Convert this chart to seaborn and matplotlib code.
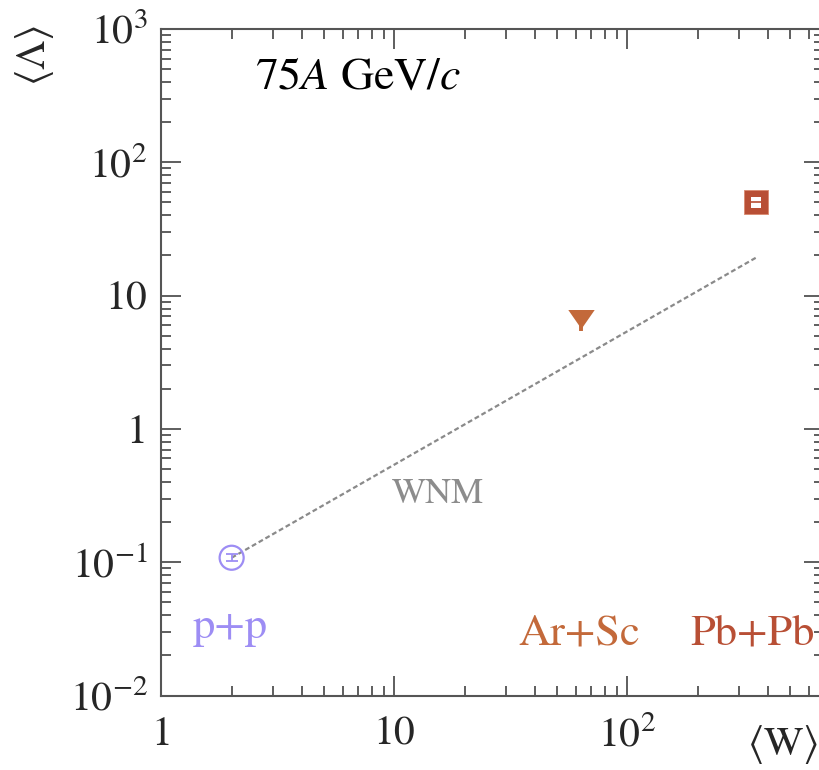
import matplotlib
matplotlib.use("Agg")
import matplotlib.pyplot as plt
from matplotlib.patches import Rectangle
from matplotlib.ticker import FixedLocator, FuncFormatter, LogLocator, NullFormatter
import numpy as np
import pandas as pd
import seaborn as sns

# Mean number of wounded nucleons and mean Lambda multiplicity at 75A GeV/c
systems = ["p+p", "Ar+Sc", "Pb+Pb"]
mean_w = [2.0, 62.9, 355.0]
mean_lambda = [0.108, 6.7, 50.0]
stat_err = [0.0065, 1.3, 1.2]
sys_err = [0.0, 0.0, 4.8]
colors = ["#9d8df4", "#c3693a", "#b84f35"]

# Wounded Nucleon Model scaling from p+p
wnm_w = [2.0, 355.0]
wnm_lambda = [0.108, 19.2]

x_ticks = [1, 10, 100]
x_tick_labels = ["1", "10", r"$10^{2}$"]
y_ticks = [0.01, 0.1, 1, 10, 100, 1000]
y_tick_labels = [r"$10^{-2}$", r"$10^{-1}$", "1", "10", r"$10^{2}$", r"$10^{3}$"]

sns.set_theme(style="ticks")
plt.rcParams["font.family"] = ["STIXGeneral", "DejaVu Serif"]
plt.rcParams["mathtext.fontset"] = "stix"

W, H = 820, 770
fig = plt.figure(figsize=(W / 100, H / 100), dpi=100)
ax = fig.add_axes([161.5 / W, 1 - 695.5 / H, (824.4 - 161.5) / W, (695.5 - 29) / H])
ax.set_xscale("log")
ax.set_yscale("log")
ax.set_xlim(1, 700)
ax.set_ylim(0.01, 1000)

# WNM reference line
wnm = pd.DataFrame({"W": wnm_w, "L": wnm_lambda})
sns.lineplot(data=wnm, x="W", y="L", ax=ax, color="#8a8a8a", lw=1.6, zorder=2)
ax.lines[-1].set_dashes((2.2, 1.3))

df = pd.DataFrame({"system": systems, "W": mean_w, "L": mean_lambda,
                   "err": stat_err, "sys": sys_err})

# p+p : open circle with statistical error bar
pp = df.iloc[0]
ax.errorbar(pp.W, pp.L, yerr=pp.err, fmt="none", ecolor=colors[0], elinewidth=1.3,
            capsize=4, capthick=1.3, zorder=4)
sns.scatterplot(x=[pp.W], y=[pp.L], ax=ax, marker="o", s=17.3 ** 2,
                facecolors="none", edgecolor=colors[0], linewidth=1.6, zorder=5)

# Ar+Sc : downward triangle (upper half of the bar is hidden by the marker)
ar = df.iloc[1]
ax.errorbar(ar.W, ar.L, yerr=[[ar.err], [0]], fmt="none", ecolor=colors[1],
            elinewidth=2.8, capsize=0, zorder=4)
tri = [(-1, 0.72), (1, 0.72), (0, -0.72)]
sns.scatterplot(x=[ar.W], y=[ar.L], ax=ax, marker=tri, s=19 ** 2,
                color=colors[1], edgecolor=colors[1], linewidth=0, zorder=5)

# Pb+Pb : filled square with systematic box
pb = df.iloc[2]
sns.scatterplot(x=[pb.W], y=[pb.L], ax=ax, marker="s", s=16.6 ** 2,
                color=colors[2], edgecolor="#d98a70", linewidth=0.6, zorder=5)
bw = 0.05
ax.add_patch(Rectangle((pb.W * (1 - bw), pb.L - pb.sys), pb.W * 2 * bw, 2 * pb.sys,
                       facecolor="white", edgecolor="none", zorder=6))
ax.plot([pb.W * (1 - bw), pb.W * (1 + bw)], [pb.L, pb.L], color=colors[2],
        lw=1.2, zorder=7)

# Annotations
ax.text(9.75, 0.278, "WNM", color="#8c8c8c", fontsize=26, ha="left", va="baseline")
ax.text(0.047, 0.087, "p+p", transform=ax.transAxes, color=colors[0], fontsize=32,
        ha="left", va="baseline")
ax.text(0.538, 0.076, "Ar+Sc", transform=ax.transAxes, color=colors[1], fontsize=32,
        ha="left", va="baseline")
ax.text(0.797, 0.076, "Pb+Pb", transform=ax.transAxes, color=colors[2], fontsize=32,
        ha="left", va="baseline")
fig.text(255 / W, 1 - 89 / H, r"75$\mathit{A}$ GeV/$\mathit{c}$", fontsize=33,
         ha="left", va="baseline", color="black")

fig.text(818 / W, 1 - 745 / H, r"$\langle\mathrm{W}\rangle$", fontsize=30,
         ha="right", va="center")
fig.text(35 / W, 1 - 55 / H, r"$\langle\Lambda\rangle$", fontsize=30,
         ha="center", va="center", rotation=90)

# Axes styling
ax.xaxis.set_major_locator(FixedLocator(x_ticks))
ax.yaxis.set_major_locator(FixedLocator(y_ticks))
ax.xaxis.set_major_formatter(FuncFormatter(
    lambda v, p: x_tick_labels[int(round(np.log10(v)))]))
ax.yaxis.set_major_formatter(FuncFormatter(
    lambda v, p: y_tick_labels[int(round(np.log10(v))) + 2]))
ax.xaxis.set_minor_locator(LogLocator(base=10, subs=np.arange(2, 10), numticks=20))
ax.yaxis.set_minor_locator(LogLocator(base=10, subs=np.arange(2, 10), numticks=20))
ax.xaxis.set_minor_formatter(NullFormatter())
ax.yaxis.set_minor_formatter(NullFormatter())
ax.tick_params(which="both", direction="in", top=True, right=True, color="#333333",
               width=1.1)
ax.tick_params(which="major", length=14.5, labelsize=30)
ax.tick_params(which="minor", length=7.2)
ax.tick_params(axis="x", which="major", pad=15)
ax.tick_params(axis="y", which="major", pad=10)
for s in ax.spines.values():
    s.set_color("#555555")
    s.set_linewidth(1.5)
ax.set_xlabel("")
ax.set_ylabel("")

fig.savefig("out.png", dpi=100)
